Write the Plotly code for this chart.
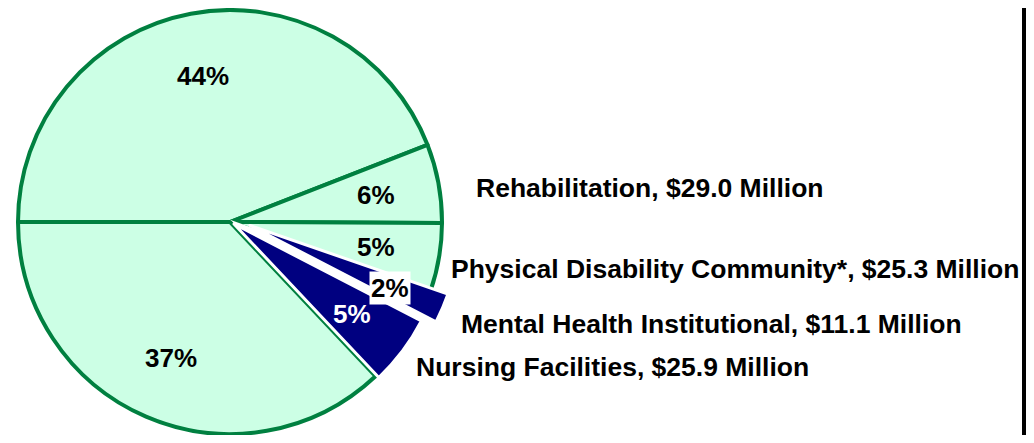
import math
import plotly.graph_objects as go

# ---- data ----
categories = ["Other A", "Rehabilitation", "Physical Disability Community*",
              "Mental Health Institutional", "Nursing Facilities", "Other B"]
values = [213.0, 29.0, 25.3, 11.1, 25.9, 179.0]   # $ Million
label_texts = ["", "Rehabilitation, $29.0 Million",
               "Physical Disability Community*, $25.3 Million",
               "Mental Health Institutional, $11.1 Million",
               "Nursing Facilities, $25.9 Million", ""]
highlight = [False, False, False, True, True, False]

# ---- style / geometry ----
OFF = 8                      # page body margin offset
W, H = 1034 - 2 * OFF, 443 - 2 * OFF
R = 212
CX, CY = 230 - OFF, 222 - OFF
shifts = {3: (20, 6), 4: (4, 3)}   # exploded slices (pixel offset)
MINT = "#CCFFE5"
GREEN = "#008040"
NAVY = "#000080"
FONT = "Liberation Sans, Arial, sans-serif"

total = sum(values)


def domain_for(cx, cy):
    return dict(x=[max(0, (cx - R) / W), min(1, (cx + R) / W)],
                y=[max(0, (H - (cy + R)) / H), min(1, (H - (cy - R)) / H)])


fig = go.Figure()

# base pie
base_colors = [("white" if h else MINT) for h in highlight]
base_lines = [("white" if h else GREEN) for h in highlight]
fig.add_trace(go.Pie(
    labels=categories, values=values, sort=False, direction="clockwise",
    rotation=270, textinfo="none", hoverinfo="label+value+percent",
    marker=dict(colors=base_colors, line=dict(color=base_lines, width=4)),
    domain=domain_for(CX, CY), showlegend=False))

# exploded navy slices
for idx, (dx, dy) in shifts.items():
    cols = ["rgba(0,0,0,0)"] * len(values)
    lcols = ["rgba(0,0,0,0)"] * len(values)
    cols[idx] = NAVY
    lcols[idx] = "white"
    fig.add_trace(go.Pie(
        labels=categories, values=values, sort=False, direction="clockwise",
        rotation=270, textinfo="none", hoverinfo="skip",
        marker=dict(colors=cols, line=dict(color=lcols, width=3)),
        domain=domain_for(CX + dx, CY + dy), showlegend=False))

# percentage labels at slice mid-angles
annotations = []
cum = 0.0
for i, v in enumerate(values):
    start = 180 - 360 * cum / total
    mid = start - 360 * v / (2 * total)
    cum += v
    dx, dy = shifts.get(i, (0, 0))
    rf = 0.72 if i == 3 else 0.70
    px = CX + dx + rf * R * math.cos(math.radians(mid))
    py = CY + dy - rf * R * math.sin(math.radians(mid))
    txt = f"{v / total:.0%}"
    color = "white" if (highlight[i] and i != 3) else "black"
    ann = dict(x=px / W, y=1 - py / H, xref="paper", yref="paper",
               text=f"<b>{txt}</b>", showarrow=False,
               xanchor="center", yanchor="middle",
               font=dict(family=FONT, size=26, color=color))
    if i == 3:
        ann.update(bgcolor="white", borderpad=1)
    annotations.append(ann)

# category labels on the right
label_pos = {1: (474, 188), 2: (449, 269), 3: (459, 324), 4: (414, 367)}
for i, (lx, ly) in label_pos.items():
    annotations.append(dict(
        x=(lx - OFF) / W, y=1 - (ly - OFF) / H, xref="paper", yref="paper",
        text=f"<b>{label_texts[i]}</b>", showarrow=False,
        xanchor="left", yanchor="middle",
        font=dict(family=FONT, size=26.5, color="black")))

fig.update_layout(
    width=W, height=H,
    margin=dict(l=0, r=0, t=0, b=0),
    paper_bgcolor="white", plot_bgcolor="white",
    annotations=annotations,
    shapes=[dict(type="line", xref="paper", yref="paper",
                 x0=(W - 2) / W, x1=(W - 2) / W, y0=0, y1=1,
                 line=dict(color="black", width=4))],
)

fig.write_html("out.html")
